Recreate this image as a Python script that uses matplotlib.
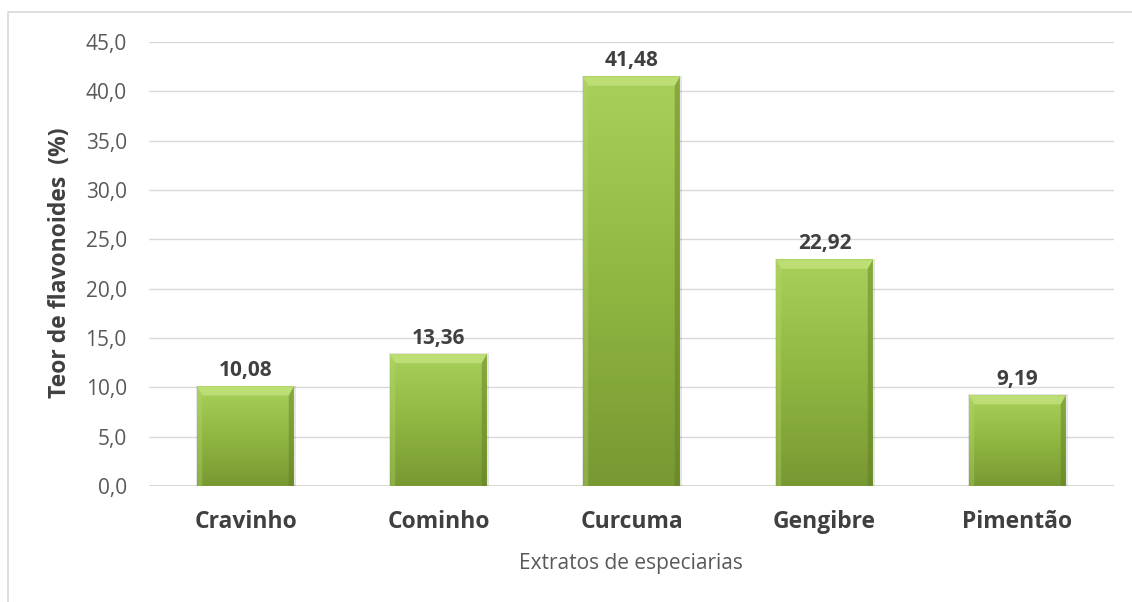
import numpy as np
import matplotlib
matplotlib.use("Agg")
import matplotlib.pyplot as plt
from matplotlib.colors import LinearSegmentedColormap
from matplotlib.patches import Polygon, Rectangle

categories = ["Cravinho", "Cominho", "Curcuma", "Gengibre", "Pimentão"]
values = [10.08, 13.36, 41.48, 22.92, 9.19]
y_ticks = [0, 5, 10, 15, 20, 25, 30, 35, 40, 45]

plt.rcParams["font.family"] = ["Open Sans", "DejaVu Sans"]

W, H = 1132, 602
fig = plt.figure(figsize=(W / 100, H / 100), dpi=100)
fig.patch.set_facecolor("white")

# outer chart frame (left and top edges visible)
frame = fig.add_axes([0, 0, 1, 1], zorder=-5)
frame.set_xlim(0, W)
frame.set_ylim(H, 0)
frame.axis("off")
frame.plot([8, 8, W], [H, 12, 12], color="#d9d9d9", lw=1.2)

ax_l, ax_r, ax_t, ax_b = 149, 1114, 42, 486
ax = fig.add_axes([ax_l / W, 1 - ax_b / H, (ax_r - ax_l) / W, (ax_b - ax_t) / H])
ax.set_xlim(-0.5, len(categories) - 0.5)
ax.set_ylim(0, 45)
ax.set_yticks(y_ticks)
ax.set_yticklabels([f"{t:.1f}".replace(".", ",") for t in y_ticks],
                   color="#595959", fontsize=15)
ax.set_xticks(range(len(categories)))
ax.set_xticklabels(categories, fontsize=16.5, fontweight="bold", color="#404040")
ax.tick_params(axis="both", length=0)
ax.tick_params(axis="y", pad=16)
ax.tick_params(axis="x", pad=17)
for s in ax.spines.values():
    s.set_visible(False)
ax.yaxis.grid(True, color="#d9d9d9", lw=1)
ax.set_axisbelow(True)
ax.axhline(0, color="#d9d9d9", lw=1.5, zorder=1)

px_x = len(categories) / (ax_r - ax_l)   # data units per pixel, x
px_y = 45 / (ax_b - ax_t)                # data units per pixel, y

cmap = LinearSegmentedColormap.from_list("bar", ["#789832", "#91b742", "#a8d05a"])
grad = np.linspace(0, 1, 256).reshape(-1, 1)
width = 0.5
for i, v in enumerate(values):
    x0, x1 = i - width / 2, i + width / 2
    # soft shadow around the bar
    ax.add_patch(Rectangle((x0 - 1 * px_x, 0), width + 3 * px_x, v + 1 * px_y,
                           color="#000000", alpha=0.10, lw=0, zorder=2))
    ax.imshow(grad, cmap=cmap, aspect="auto", origin="lower",
              extent=[x0, x1, 0, v], zorder=3, interpolation="bilinear")
    bx = 5 * px_x
    by = 9 * px_y
    # top bevel highlight
    ax.add_patch(Polygon([(x0, v), (x1, v), (x1 - bx, v - by), (x0 + bx, v - by)],
                         closed=True, color="#c4e47f", alpha=0.75, lw=0, zorder=4))
    # left bevel
    ax.add_patch(Polygon([(x0, 0), (x0, v), (x0 + bx, v - by), (x0 + bx, 0)],
                         closed=True, color="#b4d96c", alpha=0.35, lw=0, zorder=4))
    # right bevel
    ax.add_patch(Polygon([(x1, 0), (x1, v), (x1 - bx, v - by), (x1 - bx, 0)],
                         closed=True, color="#5f7a22", alpha=0.45, lw=0, zorder=4))
    ax.annotate(f"{v:.2f}".replace(".", ","), (i, v), xytext=(0, 7.6),
                textcoords="offset points", ha="center", va="baseline",
                fontsize=15, fontweight="bold", color="#404040", zorder=5)

fig.text(60 / W, 1 - 263 / H, "Teor de flavonoides  (%)", rotation=90,
         ha="center", va="center", fontsize=16.5, fontweight="bold", color="#404040")
fig.text(631 / W, 1 - 563 / H, "Extratos de especiarias", ha="center", va="center",
         fontsize=15, color="#595959")

fig.savefig("out.png", dpi=100, facecolor="white")
